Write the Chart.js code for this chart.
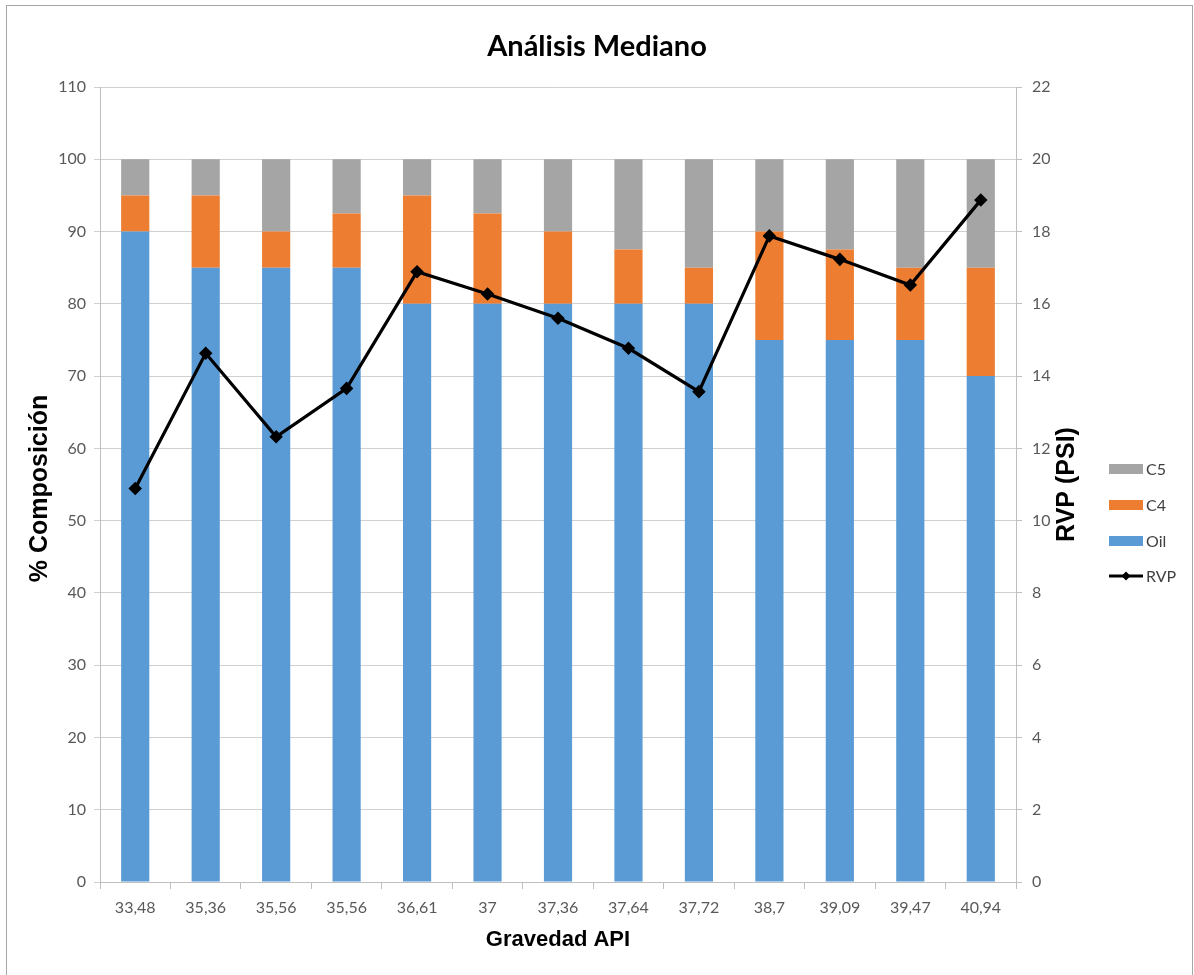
<!DOCTYPE html>
<html>
<head>
<meta charset="utf-8">
<script src="https://cdn.jsdelivr.net/npm/chart.js@4/dist/chart.umd.min.js"></script>
<style>
  html, body { margin: 0; padding: 0; background: #fff; overflow: hidden; width: 1194px; height: 975px; }
  #frame { position: absolute; left: 6px; top: 5px; width: 1187px; height: 1000px; border: 1px solid #a6a6a6; box-sizing: border-box; }
  #wrap { position: absolute; left: 0; top: 0; width: 1194px; height: 975px; }
</style>
</head>
<body>
<div id="frame"></div>
<div id="wrap"><canvas id="c" width="1194" height="975"></canvas></div>
<script>
// API gravity of each sample (category labels)
const categories = ['33,48', '35,36', '35,56', '35,56', '36,61', '37', '37,36', '37,64', '37,72', '38,7', '39,09', '39,47', '40,94'];

// Composition (%) stacked per sample
const oil = [90, 85, 85, 85, 80, 80, 80, 80, 80, 75, 75, 75, 70];
const c4  = [5, 10, 5, 7.5, 15, 12.5, 10, 7.5, 5, 15, 12.5, 10, 15];
const c5  = [5, 5, 10, 7.5, 5, 7.5, 10, 12.5, 15, 10, 12.5, 15, 15];

// Reid vapour pressure (PSI), right axis
const rvp = [10.89, 14.63, 12.32, 13.66, 16.89, 16.27, 15.60, 14.77, 13.57, 17.88, 17.23, 16.52, 18.87];

// Axis ranges
const compAxis = { min: 0, max: 110, step: 10 };
const rvpAxis  = { min: 0, max: 22, step: 2 };

const TICK_FONT = { family: 'Lato, "Liberation Sans", sans-serif', size: 16 };
const TICK_COLOR = '#595959';
const GRID_COLOR = '#d0d0d0';
const AXIS_COLOR = '#bfbfbf';

// Axis titles and legend drawn on the canvas
const extrasPlugin = {
  id: 'extras',
  afterDraw(chart) {
    const ctx = chart.ctx;
    const area = chart.chartArea;
    ctx.save();
    ctx.fillStyle = '#000';
    ctx.textAlign = 'center';
    ctx.textBaseline = 'middle';

    ctx.font = 'bold 25px "Liberation Sans", Arial, sans-serif';
    ctx.save();
    ctx.translate(40, (area.top + area.bottom) / 2 + 4);
    ctx.rotate(-Math.PI / 2);
    ctx.fillText('% Composición', 0, 0);
    ctx.restore();

    ctx.save();
    ctx.translate(1067, (area.top + area.bottom) / 2);
    ctx.rotate(-Math.PI / 2);
    ctx.fillText('RVP (PSI)', 0, 0);
    ctx.restore();

    ctx.font = 'bold 22px "Liberation Sans", Arial, sans-serif';
    ctx.fillText('Gravedad API', (area.left + area.right) / 2, 940);

    // Legend: C5, C4, Oil, RVP
    const ds = chart.data.datasets;
    const order = [2, 1, 0, 3];
    const ys = [469, 505, 541, 576];
    const x0 = 1109, x1 = 1143;
    ctx.font = '16px Lato, "Liberation Sans", sans-serif';
    ctx.textAlign = 'left';
    order.forEach((di, i) => {
      const d = ds[di];
      const y = ys[i];
      if (d.type === 'line') {
        ctx.strokeStyle = d.borderColor;
        ctx.lineWidth = 3;
        ctx.beginPath();
        ctx.moveTo(x0, y);
        ctx.lineTo(x1, y);
        ctx.stroke();
        ctx.fillStyle = d.borderColor;
        const cx = (x0 + x1) / 2, r = 4.5;
        ctx.beginPath();
        ctx.moveTo(cx, y - r);
        ctx.lineTo(cx + r, y);
        ctx.lineTo(cx, y + r);
        ctx.lineTo(cx - r, y);
        ctx.closePath();
        ctx.fill();
      } else {
        ctx.fillStyle = d.backgroundColor;
        ctx.fillRect(x0, y - 5, x1 - x0, 10);
      }
      ctx.fillStyle = '#404040';
      ctx.fillText(d.label, x1 + 3, y + 1);
    });
    ctx.restore();
  }
};

new Chart(document.getElementById('c'), {
  data: {
    labels: categories,
    datasets: [
      { type: 'bar', label: 'Oil', data: oil, backgroundColor: '#5b9bd5', yAxisID: 'y', order: 1, categoryPercentage: 1, barPercentage: 0.4 },
      { type: 'bar', label: 'C4', data: c4, backgroundColor: '#ed7d31', yAxisID: 'y', order: 1, categoryPercentage: 1, barPercentage: 0.4 },
      { type: 'bar', label: 'C5', data: c5, backgroundColor: '#a5a5a5', yAxisID: 'y', order: 1, categoryPercentage: 1, barPercentage: 0.4 },
      { type: 'line', label: 'RVP', data: rvp, borderColor: '#000', backgroundColor: '#000', borderWidth: 3.2,
        pointStyle: 'rectRot', pointRadius: 4.5, pointBackgroundColor: '#000', pointBorderColor: '#000',
        tension: 0, yAxisID: 'y1', order: 0 }
    ]
  },
  options: {
    responsive: false,
    animation: false,
    devicePixelRatio: 1,
    layout: { padding: 0 },
    plugins: {
      legend: { display: false },
      tooltip: { enabled: false },
      title: {
        display: true,
        text: 'Análisis Mediano',
        color: '#000',
        font: { family: 'Lato, "Liberation Sans", sans-serif', size: 29, weight: 'bold', lineHeight: 1.2 },
        padding: { top: 29, bottom: 23.2 }
      }
    },
    scales: {
      x: {
        stacked: true,
        offset: true,
        grid: { display: true, drawOnChartArea: false, drawTicks: true, tickLength: 7, color: AXIS_COLOR, offset: true },
        border: { display: true, color: AXIS_COLOR },
        ticks: { font: TICK_FONT, color: TICK_COLOR, padding: 9, maxRotation: 0, autoSkip: false },
        afterFit(s) { s.height = 93; }
      },
      y: {
        position: 'left',
        stacked: true,
        min: compAxis.min, max: compAxis.max,
        grid: { color: GRID_COLOR, tickLength: 6, drawTicks: true },
        border: { display: true, color: AXIS_COLOR },
        ticks: { stepSize: compAxis.step, font: TICK_FONT, color: TICK_COLOR, padding: 8 },
        afterFit(s) { s.width = 100; }
      },
      y1: {
        position: 'right',
        min: rvpAxis.min, max: rvpAxis.max,
        grid: { drawOnChartArea: false, drawTicks: true, tickLength: 6, color: AXIS_COLOR },
        border: { display: true, color: AXIS_COLOR },
        ticks: { stepSize: rvpAxis.step, font: TICK_FONT, color: TICK_COLOR, padding: 10 },
        afterFit(s) { s.width = 178; }
      }
    }
  },
  plugins: [extrasPlugin]
});
</script>
</body>
</html>
